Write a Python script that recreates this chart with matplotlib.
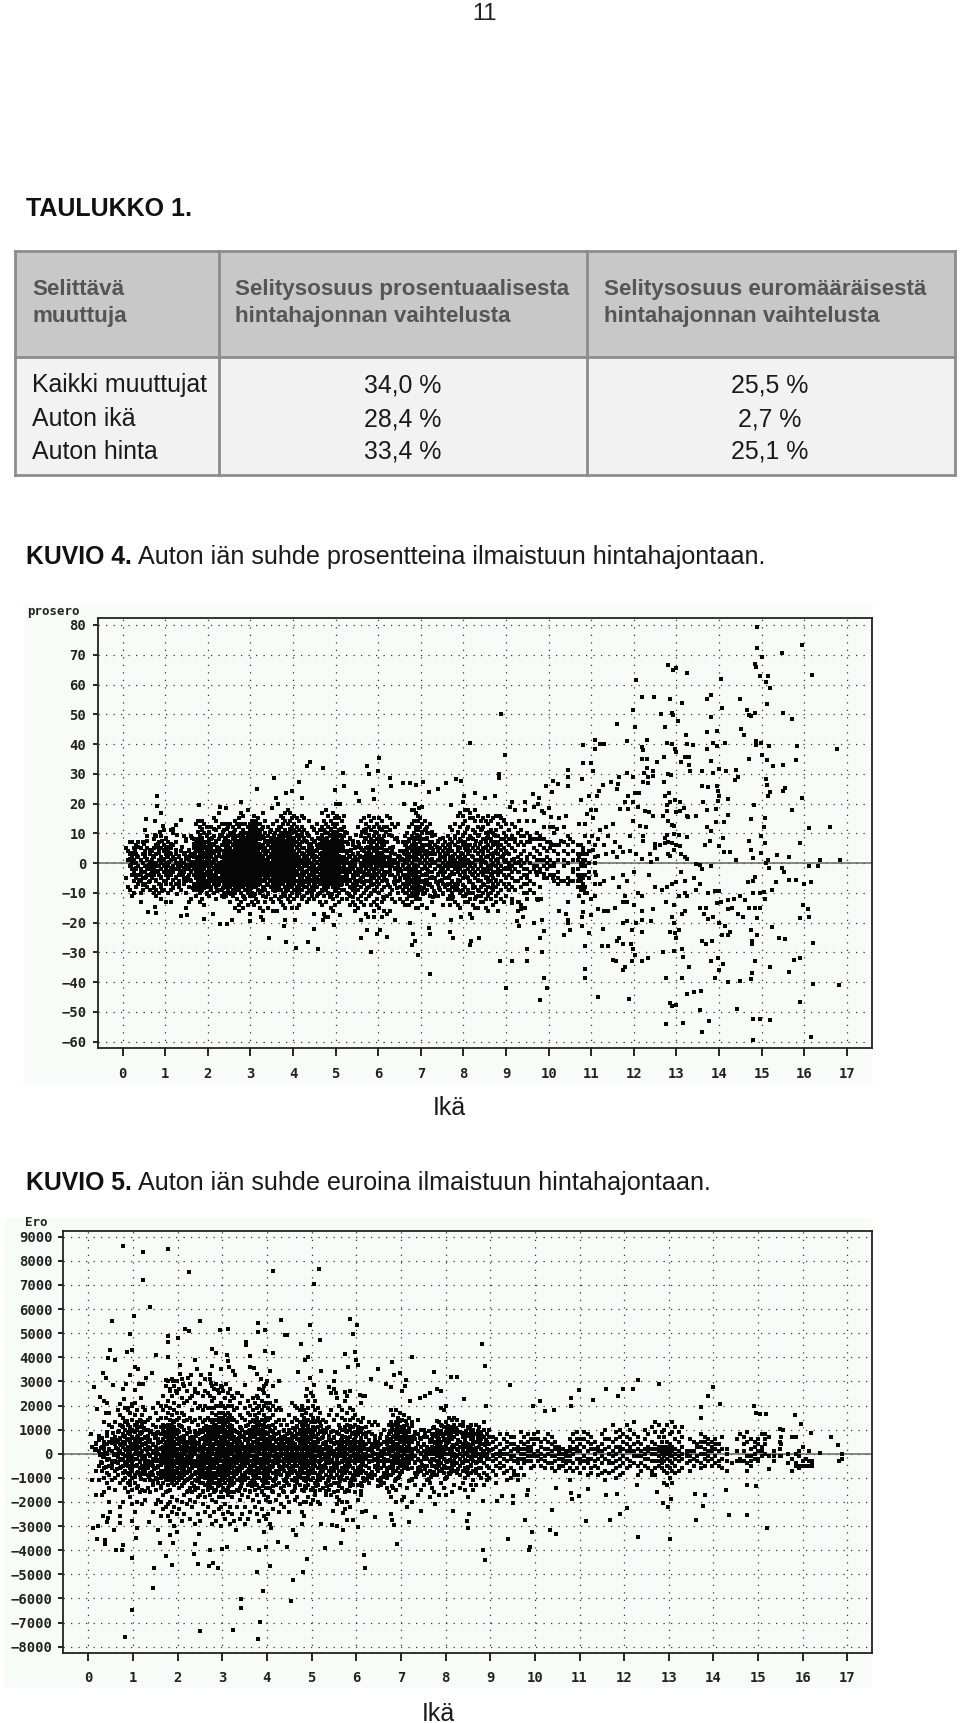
import matplotlib
matplotlib.use("Agg")
import matplotlib.pyplot as plt
from matplotlib.patches import Rectangle

# Table contents
table_head = ["Selittävä\nmuuttuja",
              "Selitysosuus prosentuaalisesta\nhintahajonnan vaihtelusta",
              "Selitysosuus euromääräisestä\nhintahajonnan vaihtelusta"]
table_rows = ["Kaikki muuttujat", "Auton ikä", "Auton hinta"]
table_pct = ["34,0 %", "28,4 %", "33,4 %"]
table_eur = ["25,5 %", "2,7 %", "25,1 %"]

ages = list(range(0, 18))
pct_ticks = list(range(-60, 81, 10))
eur_ticks = list(range(-8000, 9001, 1000))

# KUVIO 4: points (age, percent)
pct_points = [
    (.8,22.4),(.8,19.3),(.9,17),(.76,14),(.54,14.8),(.95,12.5),(1.25,12.8),(1.38,14.5),(1.79,19.5),(2.28,18.7),
    (2.42,18.5),(2.77,20.7),(3.15,25),(3.56,28.5),(4.4,34),(4.32,32.7),(4.71,32),(4.14,27.3),(3.97,24.3),(3.83,23.4),
    (4.2,22),(5.16,30.2),(6.02,35.3),(6,31),(5.74,32.5),(5.79,30),(4.98,24.5),(5.2,25.8),(5.48,23.4),(5.87,24.5),
    (6.28,28.5),(6.31,26),(6.57,27),(6.75,26.8),(6.89,26.3),(7.04,27.4),(7.2,24),(7.41,24.9),(7.6,26.8),(7.82,28.4),
    (7.93,27.6),(8.15,40.2),(8.02,22.6),(8.27,23.5),(3.6,22),(3.5,18.5),(3.65,20),(5.1,20),(5.0,20),(5.55,21),
    (5.9,21.5),(6.6,19.8),(6.85,20),(6.95,18.5),(7.7,19.5),(8.0,20.5),(8.5,22),
    (.6,-16.3),(.76,-14.9),(.77,-16.6),(1.38,-17.9),(1.5,-17.4),(1.48,-15),(1.91,-18.6),(2.13,-17),(2.28,-20.3),
    (2.44,-20.3),(2.56,-19),(3.43,-25.2),(3.84,-26.4),(4.07,-28.6),(4.36,-26.4),(4.59,-28.7),(4.48,-22),(3.79,-21),
    (4.95,-20.7),(5.59,-25),(5.84,-29.8),(5.73,-22.4),(5.96,-23.9),(6.2,-24.8),(6.04,-22.4),(6.82,-23.9),(6.85,-26),
    (6.78,-27.4),(6.94,-30.9),(7.21,-37.3),(7.2,-21.8),(7.21,-23.9),(7.75,-25.3),(7.68,-23),(8.15,-27.5),(8.17,-26),
    (8.36,-25.3),(3.0,-19.5),(3.25,-18),(3.3,-19),(3.8,-19),(4.05,-19),(4.7,-19),(4.75,-18),(5.1,-17.5),(5.6,-19),
    (5.75,-18),(5.9,-18),(6.4,-19),(6.75,-20),(7.3,-17.5),(7.7,-19),(7.95,-18),(8.2,-18.5),
    (14.9,79.4),(15.95,73.3),(15.47,70.5),(14.9,72.4),(15.01,69.3),(14.84,66.9),(14.87,66),(12.81,66.5),(12.91,64.8),
    (13,65.7),(13.24,63.8),(14.04,61.8),(12.06,61.6),(16.17,63.3),(14.96,62.9),(15.15,62.7),(15.11,61),(15.19,58.8),
    (12.2,55.7),(12.47,55.7),(12.85,55.2),(13.82,56.6),(13.71,55.3),(14.5,55.3),(13.14,53.8),(15.12,53.6),(14.06,52.1),
    (11.97,51.4),(8.87,50),(12.64,50),(12.89,50.4),(12.93,49.7),(14.66,51.5),(14.7,49.7),(14.74,49.3),(14.84,50.4),
    (15.49,50.4),(13.82,49.2),(15.72,48.4),(13.04,47.6),(11.6,46.9),(12.73,45.9),(12.03,45.9),(14.52,44.9),(14.58,43.1),
    (13.72,44.1),(13.94,44.3),(13.22,43.1),(11.09,41.5),(11.85,40.9),(12.3,41.4),(11.2,40),(11.3,39.9),(11.09,38.5),
    (10.8,39.6),(12.2,38.9),(12.22,38),(12.78,40.5),(12.9,40),(12.96,38.3),(12.98,37.2),(13.25,39.9),(13.39,39.6),
    (13.71,38.3),(13.86,40.5),(13.96,39.4),(14.14,40.2),(14.86,41),(14.98,40.5),(14.87,39.8),(15.18,39.2),(15.82,39.4),
    (16.78,38.5),(8.98,36.3),(12.2,35),(12.3,35),(12.3,32),(12.45,31),(12.55,34),(12.7,35.5),(13.1,34),(13.2,35.7),
    (13.3,35.5),(13.3,33),(13.32,31),(13.6,31),(13.8,34.4),(13.86,30.2),(14,31.6),(14.16,31),(14.4,31.2),(14.45,29),
    (14.37,27.9),(14.7,35),(15,36.4),(15.13,34.6),(15.27,32.7),(15.5,33),(15.8,34.7),(15.1,28.4),(15.13,26.3),(15.2,24),
    (15.16,22.4),(15.55,25.2),(15.5,24.3),(15.95,22),(15.72,17.9),(14.82,19.5),(14.74,14.8),(15.07,15.1),(15.05,12.3),
    (16.1,11.8),(16.6,12),(14.98,9),(14.7,7.3),(15.07,6.7),(14.74,4.5),(14.98,3.4),(14.79,1.7),(15.35,2.8),(15.65,1.9),
    (15.9,6.9),(16.37,1.1),(16.85,1.1),(16.33,-.9),(16.12,-.9),(15.1,0),(15.16,1),(15.47,-1.5),(15.52,-2.9),(15.18,-1.5),
    (12.8,30),(12.88,29.7),(12.7,27.3),(12.83,23.4),(12.73,22.4),(12.97,21.3),(12.85,20.4),(12.78,19.5),(13.08,20.4),
    (12.77,17.6),(13,17.2),(13.08,17.6),(13.18,18.4),(13.25,15.9),(12.68,15.9),(12.8,14.2),(12.9,12.8),(12.95,12.6),
    (13.45,15.7),(13.28,15.5),(13.6,25.8),(13.75,25.6),(13.63,20.4),(13.72,17.8),(13.96,26),(13.98,24.3),(14,22.6),
    (13.98,21),(14.2,21.7),(13.93,18.1),(14.2,16.1),(14.12,13.7),(13.93,13.7),(13.71,12.3),(13.8,10.9),(14.1,8.6),
    (13.79,7.5),(13.67,6),(14,5.6),(14.12,3.6),(14.25,3.8),(14.4,1.1),
    (12.24,30.2),(12.34,28.8),(12.45,29.3),(12.34,26.8),(12.22,27.4),(11.99,29),(11.83,30.2),(11.66,28.8),(11.46,27.4),
    (11.63,26.5),(11.6,24.9),(11.27,26.3),(11.17,24.3),(11.14,22.4),(10.94,22.6),(10.75,21.3),(10.45,31.2),(10.45,28.8),
    (10.45,26),(10.78,28.4),(10.8,33.6),(11,33.6),(11.05,30.8),(10.23,26.5),(10.11,27.7),(9.94,26),(10.07,24),(8.84,29.9),
    (8.84,28.6),(8.74,22.6),(9.64,23.2),(9.78,22),(9.13,20.6),(9.45,20.4),(11.87,22.6),(12.03,23.5),(12.12,23.5),
    (11.79,20.4),(11.99,20.4),(11.67,18.1),(11.87,18.1),(12.1,19),(12.26,17.6),(12.36,17.2),(12.45,15.9),(11.97,14.2),
    (12.14,12.5),(12.28,12.3),(11.9,9.2),(12.22,9.2),(12.22,7.5),(11.75,3.6),(11.52,3.6),
    (11.0,18),(11.1,18),(10.9,16.5),(10.7,13),(10.85,13),(11.05,15),(11.2,11),(11.35,12),(11.5,13),(11.02,9),(10.85,9),
    (11.15,8),(11.4,9),(11.55,7),(11.3,6),(11.68,5.5),(11.05,4.5),(10.8,5),(10.7,2),(10.9,3),(11.15,2.5),(11.35,3),
    (11.6,2),(11.9,4),(12.05,3),(12.2,1.5),(12.38,3),(12.5,5),(12.62,6),(12.72,6.8),(12.8,7),(12.9,6.7),(13,6),(13.08,5.8),
    (12.72,8.5),(12.78,9.5),(12.95,9.8),(13.05,9.3),(13.25,8.8),(12.5,6.5),(12.8,3),(12.85,2.5),(12.95,4.5),(13.1,3),
    (13.2,2),(13.25,1.5),(12.55,1.5),(12.4,.5),(13.45,-.2),(13.55,-.5),(13.8,-1),
    (10.4,16),(10.25,15),(10.05,15.5),(10.1,12),(10.2,11.5),(10.35,12),(9.85,17.5),(9.9,17),(10,18.5),(9.75,20),(9.65,19),
    (9.45,18),(9.2,17.8),(9.1,18.8),(8.85,16),(9.3,14),(9.5,14),(9.65,14),(9.15,13),(8.95,14.5),(10.5,8),(10.3,7.5),
    (10.05,6.5),(10.25,6),(9.8,8),(9.55,8),(9.35,9),(9.15,8),
    (9.1,-2),(9.3,-3),(9.5,-4),(9.7,-3),(9.9,-3.5),(10.1,-5),(10.3,-6),(10.5,-6),(10.7,-5),(10.75,-8),(10.82,-9),(10.9,-10),
    (10.7,-11),(10.8,-13),(11,-12),(11.2,-7),(11.3,-6),(11.1,-4),(11.5,-5),(11.75,-4),(11.85,-6),(12,-3),(11.65,-8),(11.8,-11),
    (12.1,-10),(12.2,-11),(12.35,-4),(12.5,-8),(12.65,-9),(12.78,-8),(12.9,-7),(13,-6.5),(13.1,-3),(13.2,-10),(13.05,-11),
    (13.25,-11),(12.75,-13),(12.95,-14),(13.2,-16),(13.12,-17),(12.9,-18),(12.95,-20),(12.85,-23),(12.97,-23.5),(13.05,-22.5),
    (13,-25),(13.45,-9),(13.55,-7),(13.2,-6),(13.4,-5),(13.6,-2),(13.75,-10),(13.9,-9.5),(14,-9.5),(14.05,-13),(14.2,-12.5),
    (14.35,-12),(14.5,-11),(14.6,-12.5),(14.7,-15),(14.85,-15),(14.95,-15),(14.45,-17),(14.3,-15),(14.2,-15.5),(13.95,-13.5),
    (13.7,-15),(13.55,-15.2),(13.65,-17),(13.75,-18.8),(13.85,-18),(14,-20),(14.15,-21.2),(14.08,-24),(14.2,-24),
    (13.6,-26),(13.7,-27),(13.83,-26),(14.26,-23),(13.8,-33),(13.98,-31.7),(14.1,-34),(14,-36),(13.9,-38.5),(14.2,-40),
    (14.5,-39.5),(14.75,-39),(14.78,-37),(14.85,-32.8),(14.78,-27),(14.78,-26),(14.88,-24),(14.76,-22.3),(14.88,-18.3),
    (14.55,-18),(15.08,-12),(14.8,-10),(14.95,-10),(15.05,-9.8),(14.8,-6),(14.85,-4.6),(14.68,-6.5),(15.33,-6.4),(15.25,-9),
    (15.65,-5.5),(15.8,-5.5),(16,-7),(16.15,-6.5),(15.98,-14),(16.08,-15.5),(15.9,-18.5),(16.12,-18),(15.25,-21.5),
    (15.4,-25),(15.55,-25.5),(16.2,-26.8),(15.75,-32.5),(15.9,-32),(15.2,-35),(15.65,-36.5),(16.2,-40.5),(16.82,-41),
    (15.9,-46.5),(16.15,-58.3),(14.8,-59.5),(14.42,-49),(15.2,-52.8),(14.8,-52.2),(14.95,-52.5),(13.55,-49.5),(13.15,-53.8),
    (13.76,-53),(13.6,-56.8),(12.75,-54),(13,-47.5),(12.9,-48),(12.85,-47),(13.25,-44),(13.4,-43.2),(13.58,-42.8),
    (12.75,-38.5),(13.13,-38.5),(13.3,-35),(13.12,-29),(13.15,-31.5),(12.95,-29.5),(12.68,-30),(12.33,-32),(12.2,-33),
    (12.03,-31),(11.98,-29),(11.93,-27),(11.75,-27),(11.65,-25),(11.6,-26),(11.4,-28),(11.25,-28),(10.85,-28),(11.95,-33),
    (11.8,-35),(11.75,-36),(11.5,-32.5),(11.58,-33),(10.85,-35.5),(10.85,-38.5),(11.15,-45),(11.88,-45.5),
    (9.8,-46),(9.95,-42),(9.9,-38.5),(9.85,-30),(9.5,-33),(9.15,-33),(9.0,-42),(8.85,-33),(9.5,-29),(9.8,-25),(9.88,-22.8),
    (10.35,-24),(10.5,-22.5),(10.45,-20),(10.25,-16),(10.4,-17),(10.45,-19),(10.78,-18),(10.78,-21),(10.95,-23.5),
    (11.28,-22),(11.75,-20),(11.85,-19.5),(11.95,-22.5),(12.05,-20),(12.2,-23),(12.2,-19),(12.4,-19.5),(12.45,-15.5),
    (12.2,-16),(12,-14),(11.85,-13),(11.75,-13),(11.55,-15),(11.4,-16),(11.3,-16),(11.15,-15.5),(11.0,-17.5),(10.8,-16.5),
    (9.82,-12),(9.75,-12.5),(9.45,-15),(9.35,-15.5),(9.3,-13),(9.15,-13.5),(9.4,-18),(9.25,-19.5),(9.3,-21),(9.65,-20),
    (9.85,-19),
]

# dense part of KUVIO 4, read column by column: age -> percents
pct_columns = {
    0.08: [-5, 5], 0.13: [-8, 1, 4], 0.17: [7, 3, -1, -9], 0.22: [7, 2, 0, -2, -4, -11], 0.27: [5, 1, -3, -6, -10],
    0.31: [6, 3, 0, -2, -5, -8], 0.36: [7, 2, -1, -4, -7], 0.42: [5, 1, -2, -4, -6, -10, -13], 0.47: [7, 3, 0, -3, -5, -9],
    0.52: [11, 4, 2, -1, -3, -5, -7], 0.58: [9, 5, 1, -2, -4, -8], 0.63: [3, 0, -2, -4, -6, -9], 0.69: [4, 1, -1, -3, -5],
    0.74: [8, 5, 2, 0, -2, -4, -8, -10], 0.79: [9, 6, 3, 0, -1, -3, -6, -9, -11], 0.85: [7, 4, 1, -1, -4, -7, -10],
    0.91: [9, 5, 2, 0, -2, -5, -8, -12], 0.96: [11, 6, 4, 1, -1, -3, -6, -9], 1.02: [8, 5, 3, 0, -2, -4, -7, -13],
    1.07: [7, 4, 2, -1, -3, -5, -10], 1.13: [11, 5, 3, 1, -2, -4, -7, -9, -13], 1.19: [10, 6, 2, -1, -3, -8], 1.24: [7, 3, 0, -2, -5, -7],
    1.31: [2, 0, -2, -4, -6, -8], 1.37: [4, 1, -1, -4, -9], 1.43: [9, 3, 0, -3, -5, -7], 1.49: [8, 2, -1, -2, -6, -10],
    1.55: [4, 1, -2, -4, -8, -13], 1.61: [9, 3, 0, -1, -3, -6, -12], 1.67: [8, 5, 2, -1, -2, -4, -7, -9], 1.72: [13, 7, 4, 2, 0, -2, -3, -5, -8, -11],
    1.77: [14, 8, 6, 4, 2, 1, -1, -2, -4, -6, -7, -9], 1.82: [12, 9, 7, 5, 3, 1, 0, -2, -3, -5, -6, -8, -10, -13],
    1.87: [14, 11, 8, 6, 4, 2, 1, -1, -3, -4, -6, -7, -9, -12], 1.92: [13, 10, 7, 5, 3, 2, 0, -1, -2, -4, -5, -7, -8, -14],
    1.97: [12, 9, 7, 5, 4, 2, 0, -1, -3, -4, -6, -8, -10], 2.02: [10, 8, 6, 4, 3, 1, -1, -2, -3, -5, -7, -11],
    2.08: [12, 8, 5, 3, 2, 0, -1, -3, -4, -6, -8, -9], 2.14: [15, 9, 6, 4, 1, 0, -2, -4, -5, -7, -10], 2.2: [14, 11, 7, 4, 2, 1, -1, -3, -5, -6, -8, -12],
    2.26: [17, 12, 8, 5, 3, 0, -2, -3, -5, -7, -9], 2.32: [13, 9, 6, 2, 0, -1, -3, -4, -6, -9, -11], 2.38: [11, 7, 4, 2, 1, -1, -2, -4, -6, -7, -10],
    2.43: [13, 8, 5, 3, 1, 0, -2, -3, -5, -7, -8, -11], 2.48: [12, 9, 6, 4, 2, 1, -1, -2, -4, -5, -7, -9, -10],
    2.53: [13, 10, 7, 5, 3, 2, 1, 0, -1, -2, -3, -4, -6, -7, -8, -10, -13], 2.58: [12, 8, 6, 4, 3, 2, 1, 0, -1, -2, -3, -4, -5, -7, -9, -11],
    2.63: [14, 11, 9, 7, 5, 4, 3, 2, 1, 0, -1, -2, -3, -4, -5, -6, -8, -10, -15], 2.68: [13, 9, 7, 6, 4, 3, 2, 1, 0, -1, -2, -3, -4, -5, -6, -7, -9, -12],
    2.73: [15, 12, 9, 7, 6, 5, 4, 3, 2, 1, 0, -1, -2, -3, -4, -5, -6, -7, -9, -14, -16], 2.78: [17, 13, 10, 8, 7, 5, 4, 3, 2, 1, 0, -1, -2, -3, -4, -5, -6, -7, -8, -10, -13],
    2.83: [16, 11, 9, 8, 7, 6, 5, 4, 3, 2, 1, 0, -1, -2, -3, -4, -5, -6, -7, -8, -11, -15], 2.88: [13, 10, 8, 7, 6, 5, 4, 3, 2, 1, 0, -1, -2, -3, -4, -5, -6, -7, -9, -12],
    2.93: [18, 12, 10, 9, 8, 7, 6, 5, 4, 3, 2, 1, 0, -1, -2, -3, -4, -5, -6, -7, -8, -10, -14], 2.98: [13, 11, 9, 8, 7, 6, 5, 4, 3, 2, 1, 0, -1, -2, -3, -4, -5, -6, -7, -9, -11, -17],
    3.03: [14, 12, 10, 8, 7, 6, 5, 4, 3, 2, 1, 0, -1, -2, -3, -4, -5, -6, -7, -8, -10, -13], 3.08: [16, 13, 11, 9, 7, 6, 5, 4, 3, 2, 1, 0, -1, -2, -3, -4, -5, -6, -8, -11, -14],
    3.13: [14, 12, 10, 8, 7, 5, 4, 3, 2, 1, 0, -1, -2, -3, -4, -5, -7, -8, -12], 3.18: [15, 13, 11, 9, 6, 4, 3, 2, 1, 0, -1, -2, -3, -4, -5, -6, -9, -13],
    3.23: [13, 10, 8, 6, 5, 3, 2, 1, 0, -1, -2, -3, -5, -7, -10, -15], 3.29: [17, 12, 9, 6, 4, 2, 1, 0, -1, -2, -4, -6, -8, -11, -16],
    3.35: [14, 10, 7, 5, 3, 1, 0, -1, -3, -4, -6, -9, -13], 3.41: [12, 9, 6, 4, 2, 1, 0, -2, -3, -5, -7, -10, -15],
    3.47: [11, 7, 5, 3, 2, 0, -1, -2, -4, -6, -8, -12], 3.52: [13, 8, 6, 4, 2, 1, 0, -1, -2, -3, -5, -7, -9, -13, -16], 3.57: [10, 7, 5, 3, 2, 1, 0, -1, -2, -3, -4, -6, -8, -11],
    3.62: [14, 11, 8, 6, 4, 3, 2, 1, 0, -1, -2, -3, -4, -5, -7, -9, -16], 3.67: [12, 9, 7, 5, 4, 3, 2, 1, 0, -1, -2, -3, -4, -5, -6, -8, -12],
    3.72: [16, 12, 10, 8, 6, 5, 4, 3, 2, 1, 0, -1, -2, -3, -4, -5, -6, -7, -9, -13], 3.77: [15, 13, 9, 7, 6, 5, 4, 3, 2, 1, 0, -1, -2, -3, -4, -5, -6, -7, -10, -14],
    3.82: [17, 14, 11, 9, 7, 6, 5, 4, 3, 2, 1, 0, -1, -2, -3, -4, -5, -6, -8, -11, -15], 3.87: [18, 13, 10, 8, 6, 5, 4, 3, 2, 1, 0, -1, -2, -3, -4, -5, -6, -7, -9, -12],
    3.92: [17, 14, 11, 9, 7, 6, 4, 3, 2, 1, 0, -1, -2, -3, -4, -5, -7, -8, -11, -13], 3.97: [15, 12, 10, 8, 6, 5, 3, 2, 1, 0, -1, -2, -3, -4, -6, -8, -10, -15],
    4.02: [16, 13, 11, 8, 6, 4, 3, 2, 1, 0, -1, -2, -3, -4, -5, -7, -9, -12], 4.08: [15, 12, 9, 7, 5, 3, 2, 0, -1, -3, -4, -6, -8, -11, -15],
    4.14: [14, 11, 8, 6, 4, 2, 1, -1, -2, -4, -6, -7, -10, -14], 4.2: [16, 12, 9, 7, 5, 3, 1, 0, -2, -3, -5, -7, -9, -12],
    4.26: [15, 11, 8, 5, 3, 2, 0, -1, -3, -4, -6, -8, -11], 4.32: [10, 7, 4, 2, 1, -1, -3, -5, -6, -8, -10, -13],
    4.38: [14, 9, 6, 3, 1, 0, -2, -4, -5, -7, -9, -12], 4.44: [12, 8, 5, 2, 0, -1, -3, -4, -6, -8, -10, -11],
    4.5: [11, 7, 4, 2, 1, -1, -2, -4, -5, -7, -9, -12, -17], 4.56: [13, 10, 6, 4, 2, 0, -2, -3, -5, -6, -8, -11], 4.62: [11, 8, 5, 3, 1, -1, -2, -4, -6, -7, -10, -13],
    4.68: [17, 12, 9, 7, 5, 3, 2, 1, 0, -1, -2, -3, -5, -7, -9, -14], 4.73: [14, 11, 8, 6, 4, 3, 2, 1, 0, -1, -2, -3, -4, -6, -8, -11, -17],
    4.78: [18, 13, 10, 8, 6, 5, 4, 3, 2, 1, 0, -1, -2, -3, -4, -5, -7, -9, -13], 4.83: [16, 12, 10, 7, 6, 5, 4, 3, 2, 1, 0, -1, -2, -3, -4, -5, -6, -8, -10, -18],
    4.88: [14, 11, 9, 7, 6, 5, 4, 3, 2, 1, 0, -1, -2, -3, -4, -5, -6, -7, -11, -15], 4.93: [17, 13, 10, 8, 6, 5, 4, 3, 2, 1, 0, -1, -2, -3, -4, -5, -6, -8, -12, -16],
    4.98: [15, 12, 9, 7, 6, 5, 4, 3, 2, 1, 0, -1, -2, -3, -4, -5, -7, -9, -14], 5.03: [16, 13, 10, 8, 6, 4, 3, 2, 1, 0, -1, -2, -3, -4, -6, -8, -11],
    5.08: [15, 11, 9, 7, 5, 4, 2, 1, 0, -1, -2, -4, -5, -7, -10, -13], 5.14: [14, 11, 8, 6, 4, 2, 1, 0, -2, -3, -5, -7, -9, -12],
    5.2: [16, 12, 9, 7, 4, 2, 0, -1, -3, -5, -6, -9], 5.26: [10, 7, 4, 1, 0, -2, -4, -5, -7, -10, -12], 5.33: [8, 4, 2, 0, -1, -3, -6, -8, -11, -14],
    5.4: [6, 3, 1, -2, -4, -5, -7, -9, -13], 5.46: [5, 2, 0, -1, -3, -6, -8, -10, -14, -16], 5.53: [12, 7, 3, 1, -2, -4, -6, -9, -12, -15],
    5.6: [14, 9, 5, 2, 0, -1, -3, -5, -8, -11, -13], 5.66: [15, 11, 7, 4, 2, 1, -1, -3, -4, -7, -10, -14], 5.72: [13, 10, 8, 5, 3, 2, 0, -1, -2, -4, -6, -9, -12, -17],
    5.78: [16, 12, 9, 7, 5, 4, 2, 1, 0, -1, -3, -4, -6, -8, -11], 5.84: [14, 11, 8, 6, 5, 3, 2, 1, -1, -2, -4, -5, -7, -10, -14],
    5.9: [15, 12, 9, 7, 5, 4, 2, 1, 0, -2, -3, -5, -7, -9, -13, -16], 5.96: [13, 10, 8, 6, 4, 3, 2, 0, -1, -2, -4, -6, -8, -12, -14],
    6.02: [15, 12, 9, 7, 5, 3, 2, 1, 0, -1, -3, -5, -7, -10, -15], 6.08: [14, 11, 8, 5, 3, 1, 0, -1, -2, -4, -6, -9, -13, -18],
    6.14: [12, 9, 6, 4, 2, 1, 0, -1, -3, -5, -8, -12, -16], 6.2: [16, 12, 7, 4, 2, 0, -1, -3, -6, -11, -17], 6.27: [15, 11, 5, 2, 1, 0, -1, -2, -4, -8, -16],
    6.33: [13, 9, 4, 1, 0, -1, -4, -9, -12], 6.4: [12, 8, 3, 1, 0, -2, -5, -7, -13], 6.46: [13, 7, 2, 0, -1, -3, -6, -10], 6.52: [4, 2, 1, -2, -5, -8, -12],
    6.58: [7, 4, 1, -1, -4, -7, -9, -13], 6.63: [9, 6, 3, 1, 0, -2, -5, -8, -10, -14], 6.68: [10, 7, 5, 2, 0, -2, -4, -6, -8, -10, -12],
    6.73: [12, 8, 5, 3, 1, -1, -3, -5, -7, -9, -11, -14], 6.78: [18, 13, 9, 6, 4, 2, 0, -2, -4, -6, -8, -10, -11, -13], 6.83: [18, 14, 10, 7, 5, 3, 1, -1, -3, -5, -7, -9, -11],
    6.88: [17, 12, 8, 6, 4, 2, 1, -1, -2, -4, -6, -8, -10, -12, -15], 6.93: [16, 14, 11, 8, 5, 3, 1, -1, -3, -5, -7, -8, -10, -15], 6.98: [15, 12, 9, 7, 5, 3, 1, 0, -3, -6, -8, -12],
    7.03: [19, 13, 10, 8, 6, 4, 2, 0, -2, -4, -6, -9, -14], 7.09: [14, 11, 8, 6, 4, 3, 1, -1, -4, -7, -10], 7.15: [12, 10, 8, 6, 4, 2, 0, -2, -4, -6, -9, -15],
    7.21: [13, 10, 7, 5, 3, 1, -1, -3, -5, -7, -11], 7.27: [9, 7, 5, 3, 0, -3, -5, -8, -13], 7.33: [6, 3, 0, -2, -5, -10, -11], 7.39: [7, 4, 1, -1, -4, -7, -11],
    7.45: [8, 5, 3, 1, -1, -3, -6, -9], 7.51: [6, 4, 2, 0, -2, -4, -7, -10, -14], 7.57: [7, 5, 2, 1, -1, -3, -5, -8], 7.63: [9, 6, 3, 0, -2, -5, -7, -9, -12],
    7.69: [12, 8, 5, 2, 0, -1, -4, -7, -9, -11, -14], 7.74: [11, 7, 4, 1, 0, -1, -3, -6, -8, -10, -12], 7.8: [13, 9, 6, 3, 1, 0, -1, -2, -7, -8, -9, -13],
    7.86: [16, 10, 7, 4, 2, 0, -1, -3, -7, -9, -14], 7.92: [17, 12, 8, 5, 2, 1, 0, -2, -4, -6, -10, -15], 7.98: [16, 13, 9, 6, 3, 1, 0, -1, -3, -5, -9, -11],
    8.04: [18, 14, 10, 7, 5, 2, 0, -1, -4, -8, -11, -13], 8.1: [18, 12, 8, 6, 3, 1, 0, -2, -5, -9, -13], 8.16: [17, 15, 9, 6, 4, 0, -1, -3, -6, -10, -12, -17],
    8.22: [15, 11, 8, 5, 2, 0, -2, -4, -7, -10, -14], 8.28: [18, 14, 10, 6, 4, 1, -1, -3, -5, -8, -12, -15], 8.34: [16, 12, 9, 5, 3, 1, -2, -4, -6, -9, -11, -15],
    8.4: [14, 11, 7, 4, 2, 0, -1, -3, -6, -8, -11, -13], 8.46: [15, 12, 8, 5, 3, 1, -2, -4, -7, -10, -13], 8.52: [14, 10, 7, 5, 2, 0, -2, -3, -5, -9, -12, -15],
    8.58: [16, 13, 9, 6, 4, 2, -1, -3, -5, -8, -11, -16], 8.64: [14, 11, 8, 5, 3, 1, -2, -4, -6, -10, -12], 8.7: [15, 10, 7, 6, 2, 0, -3, -5, -7, -9, -14],
    8.76: [16, 11, 9, 7, 4, 1, -1, -3, -6, -8, -11, -13], 8.82: [13, 9, 7, 5, 3, 0, -2, -4, -7, -10, -16], 8.88: [15, 12, 8, 6, 2, -1, -3, -6, -9, -12],
    8.94: [14, 10, 8, 5, 3, 1, -2, -4, -7, -13], 9.0: [13, 9, 7, 4, 1, -2, -5, -8, -11], 9.07: [11, 8, 6, 3, 0, -1, -4, -7, -9], 9.14: [13, 9, 5, 1, -1, -3, -5, -8, -12],
    9.21: [12, 8, 7, 4, 0, -2, -6, -9], 9.28: [10, 6, 2, 0, -3, -6, -13, -16], 9.35: [11, 7, 3, 1, -1, -5, -8, -14], 9.42: [9, 6, 4, 0, -2, -4, -7, -10],
    9.5: [10, 7, 2, 1, -2, -5, -7, -10, -12], 9.57: [9, 7, 3, 0, -3, -6, -9], 9.65: [8, 5, 2, -1, -2, -7, -10], 9.72: [10, 8, 4, 1, -1, -4, -12],
    9.8: [9, 6, 3, 1, -2, -3, -8], 9.88: [12, 8, 5, 1, -1, -4, -5], 9.95: [7, 4, 2, 0, -2, -5], 10.03: [12, 7, 5, 1, -1, -4], 10.12: [10, 6, 4, 0, -1, -4, -6],
    10.22: [6, 3, 1, -3, -5, -7], 10.35: [7, 4, 1, -1, -6], 10.45: [9, 6, 3, 0, -5, -7, -13], 10.58: [7, 4, 1, -2, -3, -6], 10.68: [6, 3, 1, -2, -4, -6, -8],
    10.75: [6, 3, 0, -1, -4, -6, -9], 10.8: [4, 1, 0, -1, -5, -7], 10.86: [3, 1, -1, -4, -8, -10], 10.95: [7, 4, 0, -3, -5], 11.08: [6, 2, 0, -3, -7, -11],
}

# thick middle of KUVIO 4, read row by row: percent -> ages in hundredths of a year
pct_rows = {
    11.5: [118, 187, 214, 246, 301, 327, 366, 392, 448, 488, 512, 571, 603, 688, 712, 809, 843],
    10.5: [88, 176, 203, 236, 262, 309, 318, 345, 381, 407, 421, 476, 497, 522, 562, 592, 617, 702, 726, 788, 826, 861],
    9.5: [76, 127, 182, 197, 228, 254, 276, 297, 322, 356, 372, 391, 412, 434, 467, 486, 509, 548, 579, 624, 691, 733, 798, 836, 872],
    8.5: [101, 163, 186, 209, 241, 263, 284, 305, 331, 348, 377, 399, 426, 458, 479, 502, 534, 568, 601, 643, 682, 714, 752, 781, 817, 856],
    7.5: [58, 92, 148, 179, 202, 219, 248, 271, 292, 314, 338, 361, 385, 403, 431, 451, 472, 491, 513, 541, 587, 612, 672, 698, 741, 793, 829, 864],
    6.5: [49, 84, 113, 168, 191, 213, 237, 258, 279, 301, 319, 342, 358, 379, 396, 417, 443, 464, 483, 506, 528, 555, 583, 609, 665, 689, 722, 768, 802, 838, 879],
    5.5: [37, 81, 106, 139, 172, 194, 221, 244, 267, 288, 308, 325, 351, 369, 387, 408, 438, 459, 477, 496, 517, 549, 576, 598, 634, 677, 706, 738, 786, 811, 852],
    4.5: [28, 64, 97, 124, 156, 181, 204, 229, 251, 273, 296, 312, 333, 354, 374, 393, 413, 439, 455, 473, 491, 511, 537, 562, 591, 618, 668, 694, 729, 763, 806, 846, 888],
    3.5: [21, 52, 86, 111, 146, 169, 193, 215, 238, 257, 278, 299, 316, 336, 357, 376, 398, 421, 446, 468, 485, 503, 526, 552, 573, 603, 629, 661, 684, 718, 757, 795, 833, 871, 903],
    2.5: [34, 71, 103, 132, 158, 183, 206, 226, 247, 268, 286, 306, 328, 347, 366, 385, 402, 428, 452, 471, 489, 507, 532, 558, 581, 611, 648, 673, 702, 745, 776, 819, 857, 893],
    1.5: [16, 56, 94, 122, 149, 174, 198, 217, 239, 259, 281, 302, 323, 341, 362, 382, 406, 431, 449, 466, 482, 501, 521, 547, 568, 596, 626, 656, 691, 727, 768, 801, 842, 882, 918],
    0.5: [25, 67, 108, 136, 164, 189, 211, 233, 252, 274, 294, 311, 329, 352, 371, 388, 411, 436, 457, 474, 493, 514, 539, 566, 588, 606, 631, 663, 697, 734, 773, 813, 851, 897, 931],
    -0.5: [19, 61, 99, 129, 152, 177, 199, 223, 243, 265, 283, 304, 321, 344, 364, 383, 404, 426, 447, 463, 481, 499, 519, 543, 571, 594, 622, 658, 686, 721, 759, 791, 826, 866, 908],
    -1.5: [31, 73, 116, 143, 167, 192, 216, 235, 255, 277, 298, 315, 335, 359, 378, 397, 419, 441, 461, 478, 495, 516, 536, 559, 584, 608, 641, 669, 709, 747, 783, 823, 859, 899],
    -2.5: [42, 83, 109, 134, 161, 186, 208, 231, 249, 271, 289, 309, 326, 349, 368, 389, 409, 433, 453, 469, 487, 508, 529, 553, 578, 601, 627, 654, 681, 716, 752, 804, 848, 886],
    -3.5: [27, 66, 104, 141, 171, 196, 218, 241, 264, 285, 303, 324, 343, 363, 381, 401, 423, 444, 462, 484, 504, 524, 546, 569, 593, 616, 646, 676, 711, 739, 778, 821, 868],
    -4.5: [54, 91, 126, 154, 184, 207, 232, 253, 275, 293, 313, 334, 355, 373, 394, 416, 437, 456, 475, 494, 518, 542, 564, 589, 613, 639, 667, 695, 725, 766, 808, 853],
    -5.5: [39, 78, 119, 159, 188, 212, 242, 266, 287, 307, 327, 346, 367, 391, 418, 442, 465, 486, 509, 533, 556, 582, 619, 651, 679, 713, 749, 787, 834, 877],
    -6.5: [62, 101, 144, 178, 201, 227, 256, 282, 303, 322, 353, 375, 399, 427, 454, 479, 498, 527, 561, 598, 637, 674, 703, 736, 774, 812, 858],
    -7.5: [47, 89, 131, 173, 197, 224, 261, 291, 317, 339, 368, 396, 424, 451, 482, 513, 551, 586, 623, 662, 687, 719, 762, 798, 847],
    -8.5: [74, 117, 166, 192, 236, 269, 301, 331, 361, 386, 415, 447, 472, 506, 538, 574, 644, 682, 708, 743, 785, 822, 867],
    -9.5: [93, 183, 222, 262, 296, 328, 357, 384, 412, 441, 469, 501, 546, 592, 659, 694, 731, 794, 836],
    -10.5: [128, 199, 254, 311, 341, 379, 408, 458, 492, 531, 584, 627, 678, 704, 751, 805, 858],
    -11.5: [238, 284, 336, 372, 421, 487, 541, 612, 691, 728, 776, 829],
}

# KUVIO 5: points (age, euros)
eur_points = [
    (.78,8625),(1.22,8375),(1.79,8470),(2.26,7555),(1.23,7195),(4.14,7580),(5.16,7670),(5.05,7055),(1.38,6100),(1.02,5720),
    (.52,5485),(.93,4970),(2.5,5485),(2.16,5180),(2.26,5070),(1.79,4900),(1.79,4625),(2,4790),(2.95,5150),(3.13,5180),
    (3.8,5415),(3.8,5040),(3.96,5140),(4.31,5555),(4.4,4930),(4.46,4930),(4.96,5330),(5.19,4720),(3.54,4650),(3.54,4520),
    (5.86,5600),(6.01,5320),(5.92,4970),(4.76,4555),(.49,4300),(.97,4320),(.86,4210),(.45,3960),(.6,3900),(1.51,4100),
    (1.78,4030),(2.39,3890),(2.76,4350),(2.86,4180),(3.1,4100),(3.13,3830),(3.62,4070),(3.96,4260),(4.14,4180),(4.93,4030),
    (4.85,3900),(5.75,4140),(5.97,4210),(5.99,3890),(6.04,3690),(6.79,3790),(7.24,4000),(5.81,3580),(6.48,3500),(7.74,3400),
    (8.13,3200),(8.25,3170),(5.52,3375),(8.81,4555),(8.89,3650),(9.45,2850),(10.98,2650),(11.6,2680),(11.97,2680),(12.2,2680),
    (12.31,3070),(12.78,2890),(14,2780),(13.88,2400),(11.86,2380),(10.8,2310),(10.8,1990),(11.3,2240),(10.12,2180),(9.95,1990),
    (10.22,1780),(10.44,1820),(14.15,2080),(13.71,1940),(13.73,1500),(14.91,1960),(14.95,1670),(15.05,1640),(15.17,1640),
    (15.82,1600),(15.97,1220),(16.18,875),(15.5,1010),(15.55,1000),(16.63,690),(16.79,350),(16.87,0),(16.87,-236),(16.8,-305),(16.38,14),
    (.82,-7600),(3.79,-7670),(2.5,-7360),(3.25,-7320),(3.84,-6970),(3.42,-6030),(3.42,-6375),(.97,-6470),(3.92,-5680),(4.53,-6110),
    (4.59,-5250),(1.44,-5580),(3.77,-4920),(4.81,-4890),(4.89,-4375),(4.08,-4650),(6.19,-4750),(6.17,-4190),(1.47,-4720),(.99,-4330),
    (1.87,-4610),(1.73,-4240),(2.46,-4580),(2.71,-4650),(2.8,-4540),(2.91,-4720),(2.37,-4150),(2.39,-3750),(2.72,-3990),(3.0,-3960),
    (3.1,-3850),(3.6,-3890),(3.83,-3990),(3.99,-3850),(4.24,-3640),(4.44,-3850),(5.3,-3920),(5.67,-3680),(6.92,-3750),(.63,-4010),
    (.75,-4010),(.77,-3800),(.19,-3540),(.37,-3570),(.37,-3750),(.11,-3080),(.21,-3010),(.57,-3150),(1.07,-3500),(1.08,-3080),(.99,-2800),
    (.71,-2870),(.71,-2600),(.45,-2670),(.32,-2600),(.43,-2850),(.49,-2430),(1.37,-2850),(1.57,-3150),(1.6,-3710),(1.9,-3710),(1.83,-3360),
    (1.98,-3250),(2.49,-3330),(3.31,-3180),(3.93,-3250),(4.1,-3080),(4.59,-3180),(4.66,-3360),(4.78,-2900),(5.22,-2920),(5.45,-2940),
    (5.56,-2990),(5.71,-3150),(5.93,-2740),(5.8,-2760),(6.04,-3040),(6.43,-2620),(6.85,-2940),(6.79,-2740),(6.77,-2500),(7.19,-2850),
    (7.44,-2390),(8.16,-2390),(8.53,-2490),(8.47,-2780),(8.51,-3080),(7.76,-2070),(6.23,-2390),(6.12,-2420),(5.49,-2390),(5.71,-2460),
    (8.89,-4400),(8.84,-3990),(9.4,-3540),(9.86,-3990),(9.9,-3850),(9.79,-2760),(9.93,-3250),(10.35,-3180),(10.48,-3330),(10.38,-2350),
    (11.15,-2800),(11.68,-2760),(11.9,-2490),(12.07,-2250),(12.31,-3460),(13.02,-3540),(12.99,-2220),(13.6,-2740),(12.87,-2040),(13.04,-1860),
    (13.77,-2180),(14.35,-2530),(14.74,-2530),(15.2,-3080),(15.25,-650),(14.27,-1490),(13.82,-1720),(13.58,-1650),(14.76,-1280),(14.95,-1350),
    (10.8,-1620),(10.83,-1860),(10.98,-1760),(10.48,-1420),(9.85,-1510),(9.82,-1690),(9.52,-1740),(9.5,-2040),(9.26,-1740),(9.16,-1970),
    (8.84,-1970),(11.6,-1690),(11.83,-1650),(11.19,-1460),(12.74,-1580),(12.29,-1310),
    (.13,2750),(.05,800),(.24,750),(.27,2350),(.33,3350),(.4,3150),(.19,1850),(.36,2200),(.42,2100),(.4,1700),(.55,2850),(.7,2050),(.78,2700),(.84,2900),
    (.8,2250),(.9,1900),(.97,2050),(1.05,3600),(.94,3270),(1.12,3530),(1.05,2650),(1.13,2900),(1.22,2900),(1.3,3150),(1.42,3350),(1.18,2300),(1.22,1950),
    (1.75,3050),(1.82,2700),(1.9,3000),(1.96,2600),(2.05,3700),(2.06,3300),(2.13,2900),(2.23,3150),(2.3,3250),(2.4,2550),(2.43,3500),(2.53,3250),(2.62,3100),
    (2.72,3300),(2.78,3650),(2.75,2950),(2.9,2650),(2.97,3500),(2.99,2750),(3.08,2900),(3.15,3600),(3.25,3450),(3.29,3270),(3.35,2500),(3.5,2850),(3.62,3580),
    (3.7,3570),(3.77,3300),(3.86,3100),(3.93,2800),(4.0,3000),(4.07,3450),(4.28,3000),(3.8,2300),(3.92,2650),(4.13,2800),(4.7,3400),(4.96,3150),(5.05,2850),
    (4.9,2700),(5.22,3450),(5.4,2750),(5.5,3000),(5.55,2500),(5.75,2550),(5.85,2600),(6.08,2450),(6.2,2400),(6.33,3100),(6.67,2900),(6.78,2750),(6.85,3250),
    (6.97,3350),(7.12,3050),(7.1,2800),(7.02,2600),(7.2,2200),(7.43,2300),(7.55,2400),(7.65,2500),(7.8,2700),(7.9,2600),(8.42,2250),(8.9,2000),
]

# dense part of KUVIO 5, read column by column: age -> hundreds of euros
eur_columns = {
    0.09: [3, -11], 0.17: [4, 2, -7, -17], 0.23: [7, 1, -5, -11], 0.3: [3, 0, -4, -7, -17], 0.35: [13, 5, 2, -1, -6, -10, -16], 0.41: [9, 4, 0, -2, -8, -12],
    0.47: [17, 12, 5, 2, -2, -5, -9, -14, -20], 0.53: [11, 6, 1, -3, -6, -11], 0.6: [13, 7, 4, 0, -3, -7, -10, -15], 0.66: [18, 9, 5, 2, -1, -4, -9],
    0.72: [16, 12, 6, 4, 1, -2, -6, -12, -22], 0.78: [15, 11, 8, 5, 3, 0, -2, -5, -8, -11, -20], 0.83: [19, 13, 10, 7, 4, 2, -1, -4, -7, -10, -14], 0.88: [18, 12, 9, 6, 3, 1, -2, -5, -8, -12, -16],
    0.93: [17, 11, 8, 5, 3, 0, -3, -6, -9, -13, -18], 0.98: [20, 14, 10, 7, 4, 2, -1, -4, -7, -10, -15, -21], 1.04: [21, 16, 12, 9, 6, 3, 0, -2, -5, -9, -12, -24],
    1.09: [18, 13, 10, 7, 4, 1, -2, -5, -8, -14, -20], 1.15: [14, 11, 8, 5, 3, 0, -3, -6, -9, -16], 1.21: [16, 12, 9, 6, 4, 1, -2, -5, -8, -15, -21], 1.27: [18, 13, 10, 7, 4, 2, -1, -4, -7, -11, -19],
    1.33: [14, 10, 6, 3, 0, -3, -6, -9, -14], 1.39: [15, 9, 5, 2, -1, -4, -8, -11, -16], 1.45: [19, 12, 8, 4, 1, -2, -5, -9, -13, -24], 1.51: [17, 11, 7, 3, 0, -3, -6, -10, -15, -21],
    1.57: [21, 14, 9, 6, 2, 0, -3, -5, -8, -12, -19], 1.63: [20, 15, 11, 8, 5, 2, -1, -4, -7, -10, -14, -20, -26], 1.68: [24, 18, 12, 9, 6, 3, 1, -2, -4, -7, -9, -12, -17, -23],
    1.73: [28, 20, 15, 11, 9, 7, 5, 3, 1, -1, -3, -5, -7, -9, -11, -16, -22], 1.78: [30, 22, 17, 12, 10, 8, 6, 4, 2, 0, -2, -4, -6, -8, -10, -13, -21, -26],
    1.83: [26, 19, 14, 11, 9, 7, 5, 3, 1, -1, -3, -5, -7, -9, -11, -15, -20, -28], 1.88: [31, 24, 16, 12, 10, 8, 6, 4, 2, 0, -2, -4, -6, -8, -10, -12, -18, -24],
    1.93: [28, 21, 18, 13, 11, 9, 7, 5, 3, 1, -1, -3, -5, -7, -9, -11, -13, -22, -30], 1.98: [30, 25, 17, 14, 10, 8, 6, 4, 2, 0, -2, -4, -6, -8, -10, -12, -19, -25],
    2.03: [27, 20, 15, 12, 9, 6, 4, 2, 0, -2, -4, -6, -8, -11, -14, -23], 2.09: [31, 23, 17, 11, 7, 5, 3, 1, -1, -3, -5, -7, -10, -13, -20, -28], 2.15: [28, 21, 16, 10, 6, 4, 2, 0, -2, -4, -6, -9, -12, -17, -25],
    2.21: [26, 22, 14, 8, 5, 3, 1, -1, -3, -5, -8, -11, -16, -21], 2.27: [29, 23, 15, 9, 5, 2, 0, -2, -4, -7, -10, -14, -19, -27], 2.33: [24, 18, 13, 7, 4, 1, -1, -3, -6, -9, -12, -16, -22],
    2.39: [27, 21, 14, 9, 5, 2, 0, -3, -5, -8, -11, -15, -20, -29], 2.45: [25, 19, 12, 8, 4, 2, -1, -3, -5, -8, -10, -14, -18, -25], 2.51: [29, 20, 15, 10, 6, 3, 1, -2, -4, -7, -9, -12, -17, -28],
    2.57: [24, 18, 13, 9, 6, 3, 1, -1, -3, -5, -7, -9, -12, -16, -21], 2.62: [26, 20, 14, 10, 7, 5, 2, 0, -2, -4, -6, -8, -10, -13, -18, -24], 2.67: [25, 19, 15, 11, 8, 6, 4, 2, 0, -2, -4, -6, -8, -10, -12, -15, -22],
    2.72: [31, 24, 19, 14, 11, 9, 7, 5, 3, 1, -1, -3, -5, -7, -9, -11, -13, -17, -26], 2.77: [28, 22, 17, 13, 10, 8, 6, 4, 2, 0, -2, -4, -6, -8, -10, -12, -14, -19, -29],
    2.82: [27, 23, 19, 14, 12, 10, 8, 6, 4, 2, 0, -2, -4, -6, -8, -10, -12, -16, -24], 2.87: [29, 20, 16, 14, 12, 10, 8, 6, 4, 2, 0, -2, -4, -6, -8, -10, -12, -15, -20, -28],
    2.92: [25, 20, 17, 15, 13, 11, 9, 7, 5, 3, 1, -1, -3, -5, -7, -9, -11, -13, -18, -23], 2.97: [28, 21, 17, 15, 13, 11, 9, 7, 5, 3, 1, -1, -3, -5, -7, -9, -11, -13, -16, -22, -30],
    3.02: [26, 20, 17, 15, 13, 11, 9, 7, 5, 3, 1, -1, -3, -5, -7, -9, -11, -14, -18, -25], 3.07: [23, 19, 16, 14, 12, 10, 8, 6, 4, 2, 0, -2, -4, -6, -8, -10, -12, -15, -21, -27],
    3.12: [25, 20, 17, 15, 13, 11, 9, 7, 5, 3, 1, -1, -3, -5, -7, -9, -11, -14, -17, -24], 3.17: [27, 22, 16, 14, 12, 10, 8, 6, 4, 2, 0, -2, -4, -6, -8, -10, -13, -16, -22, -29],
    3.22: [24, 20, 15, 11, 8, 6, 4, 2, 0, -2, -4, -6, -8, -10, -13, -18, -25], 3.27: [23, 18, 14, 10, 7, 5, 3, 1, -1, -3, -5, -7, -9, -12, -16, -28], 3.33: [25, 19, 13, 9, 6, 4, 2, 0, -2, -4, -6, -8, -11, -15, -22],
    3.39: [21, 16, 11, 8, 5, 3, 1, -1, -3, -5, -7, -10, -14, -19, -27], 3.45: [24, 15, 10, 7, 4, 2, 0, -2, -4, -6, -9, -12, -17, -25], 3.51: [19, 14, 9, 6, 3, 1, -1, -3, -5, -8, -11, -15, -22, -29],
    3.57: [22, 17, 12, 9, 6, 4, 2, 0, -2, -4, -7, -10, -13, -18, -27], 3.63: [20, 16, 13, 10, 8, 6, 3, 1, -1, -3, -5, -8, -12, -16, -24], 3.68: [23, 18, 14, 11, 9, 7, 5, 3, 1, -1, -3, -5, -7, -9, -13, -19],
    3.73: [21, 16, 13, 11, 9, 7, 5, 3, 1, -1, -3, -5, -7, -9, -12, -15, -22], 3.78: [24, 19, 15, 12, 10, 8, 6, 4, 2, 0, -2, -4, -6, -8, -10, -13, -17, -25], 3.83: [27, 20, 17, 13, 10, 8, 6, 4, 2, 0, -2, -4, -6, -8, -10, -14, -20, -28],
    3.88: [22, 18, 14, 12, 10, 8, 6, 4, 2, 0, -2, -4, -6, -8, -11, -16, -23], 3.93: [25, 20, 16, 12, 9, 7, 5, 3, 1, -1, -3, -5, -7, -9, -12, -17, -26], 3.98: [29, 21, 15, 11, 8, 6, 4, 2, 0, -2, -4, -6, -8, -11, -14, -19, -27],
    4.03: [24, 19, 14, 11, 8, 6, 4, 2, 0, -2, -4, -6, -9, -12, -18, -25], 4.08: [21, 18, 15, 10, 7, 5, 3, 1, -1, -3, -5, -7, -10, -14, -20, -29], 4.14: [20, 16, 12, 9, 6, 3, 1, -1, -3, -5, -8, -11, -16, -23],
    4.2: [22, 18, 13, 8, 5, 3, 0, -2, -4, -7, -10, -13, -19], 4.26: [19, 14, 9, 6, 4, 2, 0, -2, -5, -8, -12, -17, -24], 4.32: [18, 12, 7, 5, 3, 1, -1, -3, -6, -9, -14, -21], 4.38: [14, 10, 6, 4, 2, 0, -2, -4, -7, -11, -16, -22],
    4.44: [12, 8, 5, 3, 1, -1, -3, -5, -8, -12, -18], 4.5: [16, 10, 6, 4, 2, 0, -2, -4, -6, -9, -13, -20, -24], 4.56: [21, 13, 8, 5, 3, 1, -1, -3, -5, -8, -11, -16], 4.62: [20, 15, 10, 7, 4, 2, 0, -2, -4, -7, -10, -14, -19],
    4.68: [19, 14, 11, 8, 6, 3, 1, -1, -3, -5, -8, -12, -18], 4.73: [18, 13, 10, 8, 6, 4, 2, 0, -2, -4, -6, -9, -13, -21], 4.78: [20, 16, 12, 9, 7, 5, 3, 1, -1, -3, -5, -7, -10, -15, -24],
    4.83: [18, 15, 12, 10, 8, 6, 4, 2, 0, -2, -4, -6, -8, -11, -20, -26], 4.88: [24, 17, 13, 10, 8, 6, 4, 2, 0, -2, -4, -6, -8, -10, -14, -20], 4.93: [22, 19, 14, 11, 9, 7, 5, 3, 1, -1, -3, -5, -7, -9, -13, -18],
    4.98: [25, 16, 13, 10, 8, 6, 4, 2, 0, -2, -4, -6, -8, -11, -15, -21], 5.03: [24, 20, 15, 11, 9, 7, 5, 3, 1, -1, -3, -5, -7, -10, -14, -19], 5.08: [22, 18, 13, 10, 7, 5, 3, 1, -1, -3, -5, -8, -12, -17],
    5.14: [19, 15, 11, 8, 5, 3, 1, -1, -3, -6, -9, -13, -20], 5.2: [17, 13, 9, 6, 3, 1, -1, -3, -5, -8, -11, -15, -21], 5.26: [14, 10, 7, 4, 2, 0, -2, -5, -7, -10, -14], 5.32: [13, 9, 5, 2, 0, -3, -6, -9, -12, -17],
    5.38: [16, 11, 6, 3, 1, -2, -4, -7, -11, -15], 5.44: [25, 18, 9, 5, 2, 0, -3, -6, -9, -13, -17], 5.5: [27, 14, 7, 4, 1, -1, -4, -7, -10, -12, -16], 5.56: [23, 16, 9, 5, 2, 0, -3, -6, -9, -12, -18, -21],
    5.62: [20, 12, 8, 5, 3, 1, -1, -4, -7, -10, -13, -19], 5.68: [18, 15, 10, 6, 4, 1, -1, -3, -6, -9, -14, -20], 5.74: [22, 14, 11, 7, 5, 3, 1, -1, -3, -5, -8, -11, -16, -23], 5.8: [24, 17, 12, 9, 6, 4, 2, 0, -2, -4, -7, -10, -15, -20],
    5.86: [19, 14, 10, 7, 5, 3, 1, -1, -3, -5, -8, -12, -22], 5.92: [18, 15, 11, 8, 5, 3, 1, -1, -3, -6, -9, -13], 5.98: [16, 12, 9, 6, 4, 2, 0, -2, -4, -7, -11, -16], 6.04: [14, 11, 8, 5, 3, 1, -1, -3, -6, -9, -13, -19],
    6.1: [21, 13, 9, 6, 3, 1, -1, -3, -5, -8, -12, -17], 6.16: [24, 15, 8, 5, 2, 0, -2, -4, -7, -10], 6.22: [11, 7, 4, 2, 0, -2, -5, -8, -11], 6.28: [13, 9, 5, 2, -1, -3, -6, -9, -12], 6.35: [12, 8, 4, 1, -1, -3, -8, -10], 6.42: [13, 6, 3, 0, -2, -5, -9],
    6.48: [12, 5, 2, 0, -2, -4, -7, -11], 6.55: [8, 4, 1, -1, -3, -6, -10, -13], 6.62: [10, 5, 2, 0, -2, -5, -8, -12], 6.68: [7, 4, 2, 0, -3, -6, -10, -14], 6.73: [12, 8, 5, 2, 0, -3, -6, -9, -16], 6.78: [18, 13, 9, 6, 3, 1, -1, -3, -6, -9, -18],
    6.83: [16, 12, 10, 7, 5, 3, 1, -1, -3, -5, -8, -14], 6.88: [18, 13, 10, 8, 6, 4, 2, 0, -2, -4, -7, -15, -20], 6.93: [15, 12, 10, 8, 6, 4, 2, 0, -2, -4, -6, -10], 6.98: [17, 11, 9, 7, 5, 3, 1, -1, -3, -5, -8, -13], 7.03: [14, 9, 7, 5, 3, 1, -1, -3, -5, -7, -19],
    7.08: [16, 10, 8, 6, 4, 2, 0, -2, -4, -6, -18], 7.13: [12, 9, 7, 5, 3, 1, -1, -3, -5, -14, -22], 7.19: [15, 9, 7, 5, 3, 1, -1, -3, -4], 7.25: [13, 7, 5, 2, 0, -2, -6, -11, -20], 7.32: [9, 6, 2, -1, -4, -8, -13], 7.38: [14, 8, 4, 1, -2, -6, -17], 7.45: [10, 6, 3, 0, -3, -7, -15],
    7.52: [10, 7, 4, 1, -2, -5, -9, -13], 7.58: [7, 3, 0, -2, -5, -8, -11], 7.65: [5, 2, 0, -3, -7, -12, -18], 7.7: [8, 6, 3, 1, -2, -5, -8, -14], 7.75: [11, 8, 5, 2, 0, -2, -5, -9, -16], 7.8: [10, 7, 5, 3, 1, -1, -3, -6, -9], 7.85: [13, 9, 6, 4, 2, 0, -3, -5, -7, -17],
    7.9: [19, 12, 8, 5, 3, 1, -1, -4, -7, -12], 7.96: [18, 11, 8, 6, 3, 0, -2, -5, -8, -14], 8.02: [20, 13, 9, 6, 4, 2, 0, -3, -6, -10, -17], 8.08: [15, 10, 8, 5, 2, 0, -3, -6, -8], 8.14: [14, 11, 9, 6, 3, 1, -1, -4, -7, -16], 8.2: [15, 12, 9, 7, 3, 0, -3, -7, -13],
    8.26: [14, 10, 8, 4, 2, -1, -4, -8], 8.32: [12, 9, 5, 3, 0, -2, -5, -9, -14], 8.38: [13, 7, 4, 1, -1, -4, -7, -12], 8.44: [8, 5, 3, 0, -3, -6, -10, -15], 8.5: [11, 8, 4, 2, -1, -3, -6, -9, -18], 8.56: [12, 9, 6, 3, 1, -2, -5, -8, -13],
    8.62: [10, 7, 4, 2, 0, -3, -7, -11, -15], 8.68: [12, 8, 5, 1, -1, -4, -8, -13], 8.74: [11, 8, 6, 3, 0, -2, -6, -9], 8.8: [9, 6, 4, 2, -1, -3, -6, -10], 8.86: [13, 10, 7, 4, 1, -1, -4, -8, -13], 8.92: [8, 5, 2, 0, -2, -5, -9, -11], 8.98: [10, 7, 4, 1, -2, -6, -10],
    9.06: [7, 5, 2, -1, -3, -7], 9.14: [6, 3, 0, -2, -5, -9, -12], 9.22: [8, 4, 1, -1, -4, -6], 9.3: [6, 2, 0, -2, -5, -8], 9.38: [8, 5, 3, 0, -3, -7, -11], 9.46: [7, 4, 1, -1, -2, -6, -10], 9.54: [7, 4, 2, -1, -3, -7, -9], 9.62: [3, 1, -2, -4, -9, -11],
    9.7: [9, 5, 2, 0, -2, -6], 9.76: [7, 4, 2, 0, -2, -4, -9], 9.84: [8, 5, 3, 1, -1, -3], 9.92: [6, 3, 1, -1, -3, -6], 9.98: [8, 6, 4, 0, -1, -5], 10.06: [9, 6, 1, -1, -3], 10.14: [5, 3, 0, -2, -5], 10.22: [6, 2, -1, -3, -6], 10.3: [8, 5, 2, 0, -4],
    10.38: [7, 4, 1, -1, -4, -6], 10.46: [5, 3, 2, -1, -3, -7], 10.54: [3, 1, 0, -2, -5, -6], 10.62: [2, 0, -2, -3, -5], 10.7: [1, 0, -1, -3, -4, -7], 10.78: [6, 3, 1, -1, -3, -6, -11], 10.86: [8, 5, 2, 0, -4, -7], 10.94: [9, 6, 3, 1, -2, -6],
    11.02: [6, 4, 1, -2, -4, -8], 11.1: [9, 6, 3, -1, -3, -6], 11.18: [8, 5, 1, -2, -4, -9], 11.26: [7, 4, 2, -2, -6, -8], 11.34: [5, 2, 0, -3, -5], 11.42: [3, 1, -2, -6, -9], 11.5: [8, 4, 1, -1, -4, -8], 11.58: [10, 6, 2, -2, -7, -11],
    11.66: [6, 3, 0, -3, -4, -8], 11.74: [12, 5, 1, -1, -4, -7], 11.82: [9, 6, 3, 0, -3, -6, -10], 11.9: [10, 7, 3, 1, -2, -5, -9], 11.98: [8, 5, 2, -1, -4, -8], 12.06: [12, 7, 4, 1, -2, -6], 12.14: [10, 6, 3, 1, -3, -5], 12.22: [13, 8, 4, 1, -1, -4], 12.3: [7, 5, 2, -1, -5, -9],
    12.38: [4, 1, -1, -4, -7], 12.46: [10, 6, 2, 0, -2, -5], 12.54: [8, 3, 1, -2, -6], 12.62: [11, 5, 2, 0, -3, -7, -9], 12.7: [13, 9, 4, 2, 0, -3, -6, -9], 12.78: [12, 7, 3, 2, 1, -1, -3, -5], 12.84: [9, 5, 3, 2, 1, 0, -2, -4, -6],
    12.9: [10, 7, 3, 2, 1, 0, -1, -3, -7, -12], 12.96: [12, 5, 3, 2, 1, 0, -2, -5, -8, -13], 13.02: [8, 4, 3, 2, 1, 0, -1, -3, -6, -10], 13.08: [13, 9, 3, 2, 1, -1, -4, -7, -12], 13.14: [11, 6, 2, 0, -2, -5, -8], 13.22: [9, 5, 1, -1, -3, -7],
    13.3: [11, 7, 3, 0, -2, -6], 13.4: [1, 0, -1, -4], 13.48: [6, 1, -1, -3, -7], 13.56: [5, 1, -2, -5], 13.64: [4, 3, -1, -3], 13.72: [8, 5, 3, 0, -4, -6], 13.8: [7, 5, 2, 0, -2, -5], 13.88: [6, 4, 1, -1, -3], 13.96: [5, 3, 1, -2, -5], 14.04: [6, 4, 2, -1, -4],
    14.12: [4, 1, -3, -5], 14.2: [7, 2, -2, -6], 14.3: [2, 0, -3, -7], 14.42: [-4], 14.52: [6, 1, -3], 14.6: [8, -3, -2], 14.68: [7, 4, 1, -3], 14.76: [9, 5, -1, -4, -7], 14.84: [6, 2, -1, -3, -5], 14.92: [5, 3, 0, -2], 15.0: [6, 4, 1, -2, -3], 15.08: [8, 3, 1, -1],
    15.16: [8, 6, 4, 0], 15.24: [7, -1], 15.36: [1, -1, -3], 15.48: [5, 2, -1], 15.52: [7, 4, -1], 15.68: [0, -4], 15.76: [7, -2, -7], 15.84: [7, 0, -4, -5], 15.92: [1, -1, -5, -6], 16.0: [3, -3, -5], 16.08: [-2, -5], 16.14: [1, -3, -5], 16.2: [-3, -4, -5],
}

# thick middle of KUVIO 5, read row by row: hundreds of euros -> ages in hundredths of a year
eur_rows = {
    13.5: [86, 118, 189, 214, 279, 296, 311, 368, 396, 482, 511, 699, 712, 781],
    11.5: [76, 109, 176, 207, 263, 284, 301, 322, 353, 379, 404, 468, 492, 522, 587, 691, 708, 724, 792, 806, 838],
    10.5: [93, 124, 168, 191, 226, 259, 276, 294, 318, 342, 371, 392, 418, 459, 481, 506, 534, 564, 612, 681, 702, 719, 771, 803, 824, 854],
    9.5: [68, 103, 141, 183, 202, 238, 268, 287, 305, 329, 361, 384, 409, 438, 473, 497, 519, 549, 578, 603, 676, 696, 714, 763, 789, 817, 846, 873],
    8.5: [56, 89, 117, 154, 177, 196, 221, 249, 272, 291, 313, 337, 356, 376, 401, 428, 452, 476, 501, 527, 556, 591, 623, 688, 711, 753, 781, 801, 836, 861],
    7.5: [41, 79, 111, 133, 172, 193, 214, 241, 263, 283, 303, 322, 348, 369, 393, 416, 441, 466, 487, 511, 538, 569, 599, 641, 684, 706, 729, 772, 794, 813, 852, 881],
    6.5: [31, 71, 98, 126, 149, 179, 203, 228, 256, 278, 298, 317, 338, 362, 386, 407, 431, 457, 478, 498, 524, 551, 581, 611, 654, 689, 716, 743, 784, 808, 843, 873],
    5.5: [24, 63, 87, 112, 138, 168, 188, 211, 236, 261, 285, 306, 328, 352, 378, 399, 421, 448, 471, 491, 514, 541, 567, 596, 629, 668, 698, 725, 766, 797, 828, 862, 891],
    4.5: [18, 54, 81, 104, 129, 157, 181, 204, 226, 248, 271, 293, 313, 334, 358, 381, 406, 433, 458, 482, 504, 527, 552, 579, 608, 643, 682, 708, 739, 776, 804, 846, 878],
    3.5: [36, 73, 96, 121, 144, 171, 192, 217, 239, 258, 279, 301, 321, 343, 366, 388, 414, 439, 463, 488, 509, 533, 561, 588, 618, 652, 692, 718, 751, 788, 816, 853, 889],
    2.5: [29, 62, 91, 113, 136, 162, 186, 208, 231, 253, 274, 296, 316, 336, 359, 382, 403, 426, 451, 474, 496, 519, 544, 571, 601, 634, 672, 703, 733, 771, 801, 838, 869],
    1.5: [16, 47, 84, 107, 131, 153, 178, 199, 223, 246, 267, 289, 309, 331, 351, 373, 396, 419, 443, 467, 489, 512, 537, 563, 592, 626, 663, 694, 726, 761, 796, 829, 861, 902],
    0.5: [37, 69, 94, 119, 147, 173, 194, 216, 237, 256, 277, 297, 318, 339, 361, 383, 408, 432, 456, 479, 501, 523, 548, 574, 603, 638, 674, 707, 744, 779, 811, 848, 883, 921],
    -0.5: [26, 58, 88, 114, 139, 164, 187, 209, 233, 254, 273, 292, 312, 333, 354, 377, 398, 423, 447, 472, 494, 516, 539, 566, 594, 621, 658, 691, 723, 756, 793, 826, 866, 906],
    -1.5: [33, 66, 92, 122, 151, 176, 201, 224, 245, 266, 286, 307, 327, 349, 372, 394, 417, 442, 465, 486, 508, 531, 558, 586, 616, 649, 684, 717, 752, 787, 822, 859, 893],
    -2.5: [43, 76, 101, 128, 158, 182, 206, 229, 252, 275, 295, 315, 335, 357, 381, 404, 428, 453, 477, 499, 521, 546, 573, 606, 639, 671, 704, 738, 774, 809, 843, 879],
    -3.5: [28, 61, 86, 116, 143, 169, 195, 219, 243, 265, 288, 308, 329, 352, 375, 397, 424, 449, 473, 493, 517, 541, 568, 598, 629, 663, 698, 731, 767, 803, 837, 871],
    -4.5: [52, 83, 108, 137, 163, 189, 213, 235, 258, 282, 303, 325, 346, 368, 391, 413, 438, 462, 484, 506, 529, 556, 584, 614, 648, 679, 712, 747, 783, 819, 856],
    -5.5: [39, 74, 99, 127, 155, 181, 207, 232, 255, 278, 299, 319, 342, 364, 387, 411, 436, 459, 481, 503, 526, 551, 581, 609, 643, 676, 709, 742, 779, 814, 851],
    -6.5: [64, 95, 123, 148, 174, 199, 225, 249, 272, 294, 314, 337, 359, 382, 406, 429, 454, 476, 498, 523, 549, 577, 611, 646, 682, 717, 754, 791, 827, 868],
    -7.5: [82, 112, 142, 167, 193, 218, 242, 268, 291, 311, 333, 356, 378, 402, 427, 452, 474, 497, 521, 544, 571, 601, 636, 669, 702, 738, 775, 812, 848],
    -8.5: [91, 124, 159, 186, 212, 238, 263, 287, 309, 331, 352, 376, 399, 423, 447, 471, 494, 518, 543, 568, 597, 632, 667, 699, 736, 771, 809],
    -9.5: [105, 136, 172, 204, 229, 256, 281, 304, 326, 349, 372, 397, 421, 446, 469, 492, 516, 541, 567, 594, 627, 661, 696, 733, 768, 804],
    -10.5: [118, 154, 191, 223, 249, 276, 299, 322, 346, 371, 393, 418, 443, 468, 491, 514, 539, 566, 591, 624, 656, 689, 726, 762, 798],
    -11.5: [94, 146, 187, 217, 244, 271, 295, 318, 343, 367, 391, 416, 441, 464, 488, 512, 537, 563, 588, 618, 653, 686, 719],
    -13.5: [112, 163, 209, 237, 268, 291, 316, 341, 366, 392, 414, 439, 463, 486, 511, 534, 561, 586, 613, 649, 681],
    -15.5: [128, 178, 223, 256, 283, 311, 337, 363, 389, 411, 436, 461, 484, 508, 532, 559, 584, 611],
}

fig = plt.figure(figsize=(9.6, 17.23), dpi=100)
plt.rcParams['font.family'] = ['Liberation Sans', 'DejaVu Sans']

# whole page in pixel coordinates, for the table and the text
page = fig.add_axes([0, 0, 1, 1])
page.set_xlim(0, 960)
page.set_ylim(1723, 0)
page.axis("off")

page.text(484, 14, "11", ha="center", va="center", fontsize=17, color="#222222")
page.text(26, 209, "TAULUKKO 1.", va="center", fontsize=18, fontweight="bold", color="#111111")

# Table
page.add_patch(Rectangle((15, 251), 940, 106, fc="#c8c8c8", ec="none"))
page.add_patch(Rectangle((15, 357), 940, 118, fc="#f2f2f2", ec="none"))
for x in [15, 219, 587, 955]:
    page.plot([x, x], [251, 475], color="#8c8c8c", lw=2)
for y in [251, 357, 475]:
    page.plot([15, 955], [y, y], color="#8c8c8c", lw=2)
for x, head in zip([32, 235, 604], table_head):
    page.text(x, 303, head, va="center", fontsize=16.1, fontweight="bold", color="#555555", linespacing=1.33)
for y, name, p, e in zip([385, 419, 452], table_rows, table_pct, table_eur):
    page.text(32, y, name, va="center", fontsize=17.9, color="#1a1a1a")
    page.text(403, y, p, ha="center", va="center", fontsize=17.9, color="#1a1a1a")
    page.text(770, y, e, ha="center", va="center", fontsize=17.9, color="#1a1a1a")

# Captions
page.text(26, 557, "KUVIO 4.", va="center", fontsize=17.8, fontweight="bold", color="#111111")
page.text(138, 557, "Auton iän suhde prosentteina ilmaistuun hintahajontaan.", va="center", fontsize=18.1, color="#1a1a1a")
page.text(449, 1108, "Ikä", ha="center", va="center", fontsize=17.9, color="#1a1a1a")
page.text(26, 1183, "KUVIO 5.", va="center", fontsize=17.8, fontweight="bold", color="#111111")
page.text(138, 1183, "Auton iän suhde euroina ilmaistuun hintahajontaan.", va="center", fontsize=18.1, color="#1a1a1a")
page.text(438, 1714, "Ikä", ha="center", va="center", fontsize=17.9, color="#1a1a1a")

# light backgrounds behind the two plots
page.add_patch(Rectangle((24, 605), 848, 478, fc="#f8fcf9", ec="none"))
page.add_patch(Rectangle((5, 1218), 867, 470, fc="#f8fcf9", ec="none"))


def scatter_panel(left, top, right, bottom, xlim, ylim, yticks, points, columns, rows, scale, ylabel_name, name_x, name_y, ypad):
    ax = fig.add_axes([left / 960, 1 - bottom / 1723, (right - left) / 960, (bottom - top) / 1723])
    ax.set_facecolor("#f8fcf9")
    ax.set_xlim(*xlim)
    ax.set_ylim(*ylim)
    ax.set_xticks(ages)
    ax.set_yticks(yticks)
    ax.grid(True, color="#333333", lw=0.9, linestyle=(0, (1, 5)))
    ax.set_axisbelow(True)
    ax.axhline(0, color="#666666", lw=1.1, zorder=1)

    xs = [p[0] for p in points]
    ys = [p[1] for p in points]
    for age, vals in columns.items():
        xs += [age] * len(vals)
        ys += [v * scale for v in vals]
    for val, hundredths in rows.items():
        xs += [h / 100 for h in hundredths]
        ys += [val * scale] * len(hundredths)
    ax.scatter(xs, ys, s=5.5, marker="s", color="#050505", linewidths=0, zorder=3)

    ax.tick_params(axis="y", length=3.5, width=1.2, pad=ypad)
    ax.tick_params(axis="x", length=5.5, width=1.2, pad=8)
    for lab in ax.get_xticklabels() + ax.get_yticklabels():
        lab.set_family("DejaVu Sans Mono")
        lab.set_fontweight("bold")
        lab.set_fontsize(10)
        lab.set_color("#222222")
    for s in ax.spines.values():
        s.set_linewidth(1.3)
        s.set_color("#222222")
    page.text(name_x, name_y, ylabel_name, va="center", family="DejaVu Sans Mono", fontweight="bold", fontsize=9, color="#222222")
    return ax


scatter_panel(98, 618, 872, 1048, (-0.58, 17.59), (-62.1, 82.35), pct_ticks, pct_points, pct_columns, pct_rows, 1,
              "prosero", 27, 611, 5)
scatter_panel(62.7, 1230.7, 872, 1652.7, (-0.573, 17.55), (-8249, 9249), eur_ticks, eur_points, eur_columns, eur_rows, 100,
              "Ero", 25, 1223, 4)

fig.savefig("out.png", dpi=100)
